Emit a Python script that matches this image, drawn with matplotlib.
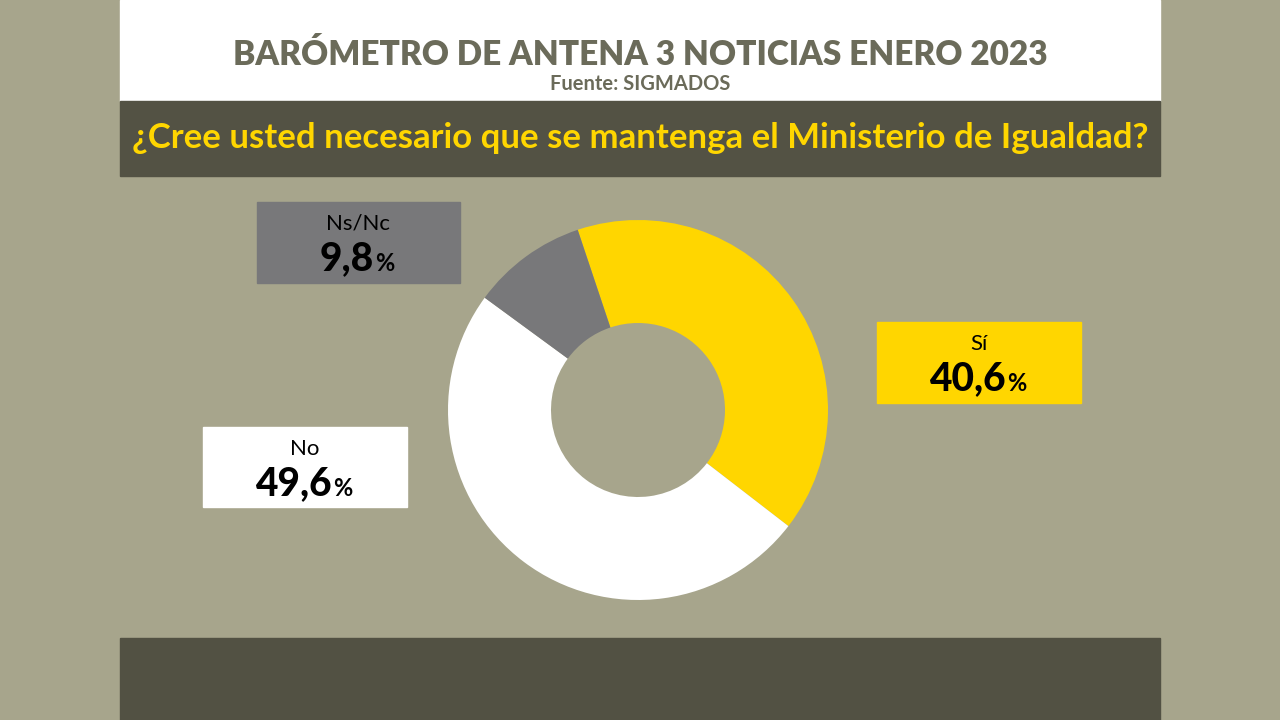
import matplotlib.pyplot as plt
from matplotlib.patches import Rectangle

plt.rcParams['font.family'] = ['Lato', 'DejaVu Sans']

title = "BARÓMETRO DE ANTENA 3 NOTICIAS ENERO 2023"
source = "Fuente: SIGMADOS"
question = "¿Cree usted necesario que se mantenga el Ministerio de Igualdad?"

labels = ["Sí", "No", "Ns/Nc"]
values = [40.6, 49.6, 9.8]
colors = ["#ffd600", "#ffffff", "#78787a"]

bg = "#a7a58c"
dark = "#535244"

fig = plt.figure(figsize=(12.8, 7.2), dpi=100)
fig.patch.set_facecolor(bg)

# layer in pixel coords
ax = fig.add_axes([0, 0, 1, 1])
ax.set_xlim(0, 1280)
ax.set_ylim(720, 0)
ax.axis("off")

ax.add_patch(Rectangle((120, 0), 1040, 101, color="white"))
ax.add_patch(Rectangle((120, 101), 1040, 75, color=dark))
ax.add_patch(Rectangle((120, 638), 1040, 82, color="#525143"))

ax.text(640, 55, title, ha="center", va="center", fontsize=24, fontweight="heavy", color="#6b6b5a")
ax.text(640, 84, source, ha="center", va="center", fontsize=14.5, fontweight="bold", color="#6b6b5a")
ax.text(640, 138, question, ha="center", va="center", fontsize=25, fontweight="bold", color="#ffd600")

# donut
cx, cy, r = 638, 410, 190
pax = fig.add_axes([(cx - r) / 1280, 1 - (cy + r) / 720, 2 * r / 1280, 2 * r / 720])
pax.pie(values, colors=colors, startangle=108.5, counterclock=False,
        wedgeprops=dict(width=103 / 190, linewidth=0))
pax.set_aspect("equal")
pax.set_xlim(-1, 1)
pax.set_ylim(-1, 1)

# label boxes: (x, y, w, h)
boxes = {"Sí": (877, 322, 204, 81), "No": (203, 427, 204, 80), "Ns/Nc": (257, 202, 203, 81)}
for lab, val, col in zip(labels, values, colors):
    x, y, w, h = boxes[lab]
    ax.add_patch(Rectangle((x, y), w, h, color=col))
    ax.text(x + w / 2, y + 22, lab, ha="center", va="center", fontsize=16, color="black")
    num = f"{val:.1f}".replace(".", ",")
    t = ax.text(x + w / 2 - 12, y + 57, num, ha="center", va="center", fontsize=28,
                fontweight="black", color="black")
    ax.annotate("%", xy=(1, 0), xycoords=t, xytext=(1, 2), textcoords="offset points",
                ha="left", va="bottom", fontsize=17, fontweight="bold", color="black")

fig.savefig("out.png", dpi=100, facecolor=fig.get_facecolor())
